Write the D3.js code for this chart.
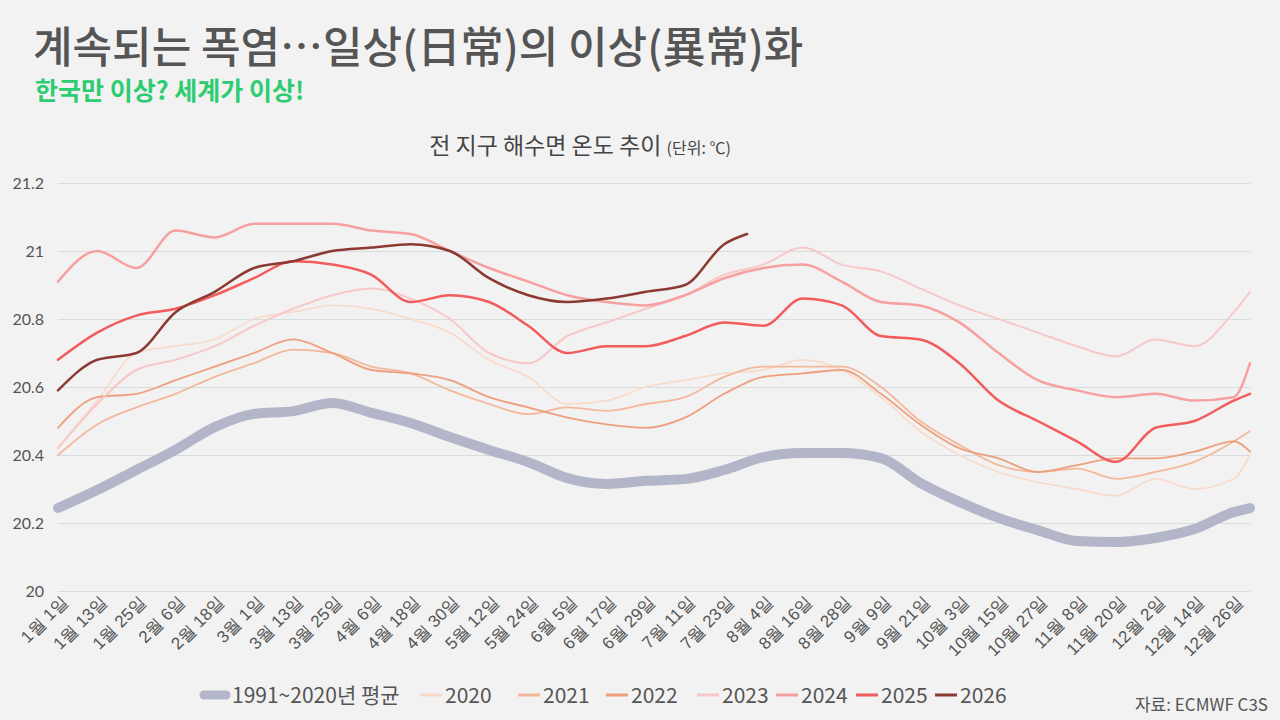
<!DOCTYPE html><html><head><meta charset="utf-8">
<script src="https://cdn.jsdelivr.net/npm/d3@7"></script>
<style>body{margin:0;background:#f2f2f2;}svg{font-family:"Noto Sans CJK KR","Noto Sans",sans-serif;}</style>
</head><body><svg id="c" width="1280" height="720"></svg>
<script>
const days=[1,13,25,37,49,61,73,85,97,109,121,133,145,157,169,181,193,205,217,229,241,253,265,277,289,301,313,325,337,349,361,366];
const tickLabels=["1월 1일","1월 13일","1월 25일","2월 6일","2월 18일","3월 1일","3월 13일","3월 25일","4월 6일","4월 18일","4월 30일","5월 12일","5월 24일","6월 5일","6월 17일","6월 29일","7월 11일","7월 23일","8월 4일","8월 16일","8월 28일","9월 9일","9월 21일","10월 3일","10월 15일","10월 27일","11월 8일","11월 20일","12월 2일","12월 14일","12월 26일"];
const avg=[20.244,20.297,20.356,20.415,20.482,20.521,20.529,20.553,20.524,20.494,20.453,20.415,20.379,20.332,20.315,20.324,20.329,20.356,20.394,20.406,20.406,20.391,20.318,20.262,20.215,20.179,20.147,20.144,20.156,20.182,20.232,20.244];
const y2020=[20.42,20.56,20.70,20.72,20.74,20.80,20.82,20.84,20.83,20.80,20.76,20.68,20.63,20.55,20.56,20.60,20.62,20.64,20.65,20.68,20.65,20.57,20.47,20.40,20.35,20.32,20.30,20.28,20.33,20.30,20.33,20.40];
const y2021=[20.40,20.49,20.54,20.58,20.63,20.67,20.71,20.70,20.66,20.64,20.59,20.55,20.52,20.54,20.53,20.55,20.57,20.63,20.66,20.66,20.66,20.60,20.50,20.43,20.37,20.35,20.36,20.33,20.35,20.38,20.44,20.47];
const y2022=[20.48,20.57,20.58,20.62,20.66,20.70,20.74,20.70,20.65,20.64,20.62,20.57,20.54,20.51,20.49,20.48,20.51,20.58,20.63,20.64,20.65,20.58,20.49,20.42,20.39,20.35,20.37,20.39,20.39,20.41,20.44,20.41];
const y2023=[20.42,20.55,20.65,20.68,20.72,20.78,20.83,20.87,20.89,20.86,20.80,20.70,20.67,20.75,20.79,20.83,20.87,20.93,20.96,21.01,20.96,20.94,20.89,20.84,20.80,20.76,20.72,20.69,20.74,20.72,20.82,20.88];
const y2024=[20.91,21.00,20.95,21.06,21.04,21.08,21.08,21.08,21.06,21.05,21.00,20.95,20.91,20.87,20.85,20.84,20.87,20.92,20.95,20.96,20.91,20.85,20.84,20.79,20.70,20.62,20.59,20.57,20.58,20.56,20.57,20.67];
const y2025=[20.68,20.76,20.81,20.83,20.87,20.92,20.97,20.96,20.93,20.85,20.87,20.85,20.78,20.70,20.72,20.72,20.75,20.79,20.78,20.86,20.84,20.75,20.74,20.67,20.56,20.50,20.44,20.38,20.48,20.50,20.56,20.58];
const days2026=[1,13,25,37,49,61,73,85,97,109,121,133,145,157,169,181,193,205,212];
const y2026=[20.59,20.68,20.70,20.82,20.88,20.95,20.97,21.00,21.01,21.02,21.00,20.92,20.87,20.85,20.86,20.88,20.90,21.02,21.05];
const yTicks=[20,20.2,20.4,20.6,20.8,21,21.2];

const svg=d3.select("#c");
const x=d3.scaleLinear().domain([1,366]).range([58,1250]);
const y=d3.scaleLinear().domain([20,21.2]).range([591,183]);
svg.append("text").attr("x",33).attr("y",63).attr("font-size",43).attr("font-weight",500).attr("fill","#555").text("계속되는 폭염…일상(日常)의 이상(異常)화");
svg.append("text").attr("x",35).attr("y",100).attr("font-size",25).attr("font-weight",700).attr("fill","#2ecc71").text("한국만 이상? 세계가 이상!");
const t=svg.append("text").attr("x",580).attr("y",154).attr("text-anchor","middle").attr("fill","#444");
t.append("tspan").attr("font-size",23).text("전 지구 해수면 온도 추이 ");
t.append("tspan").attr("font-size",16).text("(단위: ℃)");
const ya=svg.append("g").attr("transform","translate(58,0)").call(d3.axisLeft(y).tickValues(yTicks).tickSize(-1192).tickFormat(d=>d===20||d===21?d:d3.format(".1f")(d)));
ya.select(".domain").remove();
ya.selectAll("line").attr("stroke","#d8dcdc");
ya.selectAll("text").attr("font-size",16).attr("fill","#555").attr("x",-14).attr("font-family","Lato,'Noto Sans',sans-serif");
const xa=svg.append("g").attr("transform","translate(0,591)").call(d3.axisBottom(x).tickValues(days.slice(0,31)).tickSize(0).tickFormat((d,i)=>tickLabels[i]));
xa.select(".domain").remove();
xa.selectAll("text").attr("font-size",17).attr("fill","#555").attr("text-anchor","end").attr("dy",0).attr("transform","translate(8,10) rotate(-45)");
const line=(ds)=>d3.line().x((d,i)=>x(ds[i])).y(d=>y(d)).curve(d3.curveMonotoneX);
const series=[
 {n:"1991~2020년 평균",v:avg,d:days,c:"#b3b5c9",w:10},
 {n:"2020",v:y2020,d:days,c:"#f8dccb",w:1.8},
 {n:"2021",v:y2021,d:days,c:"#f4b89b",w:1.8},
 {n:"2022",v:y2022,d:days,c:"#ee9f7e",w:1.8},
 {n:"2023",v:y2023,d:days,c:"#f8c8c8",w:2},
 {n:"2024",v:y2024,d:days,c:"#f7a0a2",w:2.5},
 {n:"2025",v:y2025,d:days,c:"#f25c5c",w:2.5},
 {n:"2026",v:y2026,d:days2026,c:"#8b3a32",w:2.5}];
series.forEach(s=>svg.append("path").datum(s.v).attr("d",line(s.d)).attr("fill","none").attr("stroke",s.c).attr("stroke-width",s.w).attr("stroke-linecap","round").attr("stroke-linejoin","round"));
const lx=[168,420,518,606,697,776,856,935];
series.forEach((s,i)=>{
 svg.append("line").attr("x1",lx[i]+(i==0?36:0)).attr("x2",lx[i]+(i==0?58:22)).attr("y1",695).attr("y2",695).attr("stroke",s.c).attr("stroke-width",i==0?9:3).attr("stroke-linecap",i==0?"round":"butt");
 svg.append("text").attr("x",lx[i]+(i==0?64:25)).attr("y",703).attr("font-size",21).attr("fill","#555").text(s.n);
});
svg.append("text").attr("x",1268).attr("y",711).attr("text-anchor","end").attr("font-size",17).attr("fill","#555").text("자료: ECMWF C3S");
</script></body></html>
